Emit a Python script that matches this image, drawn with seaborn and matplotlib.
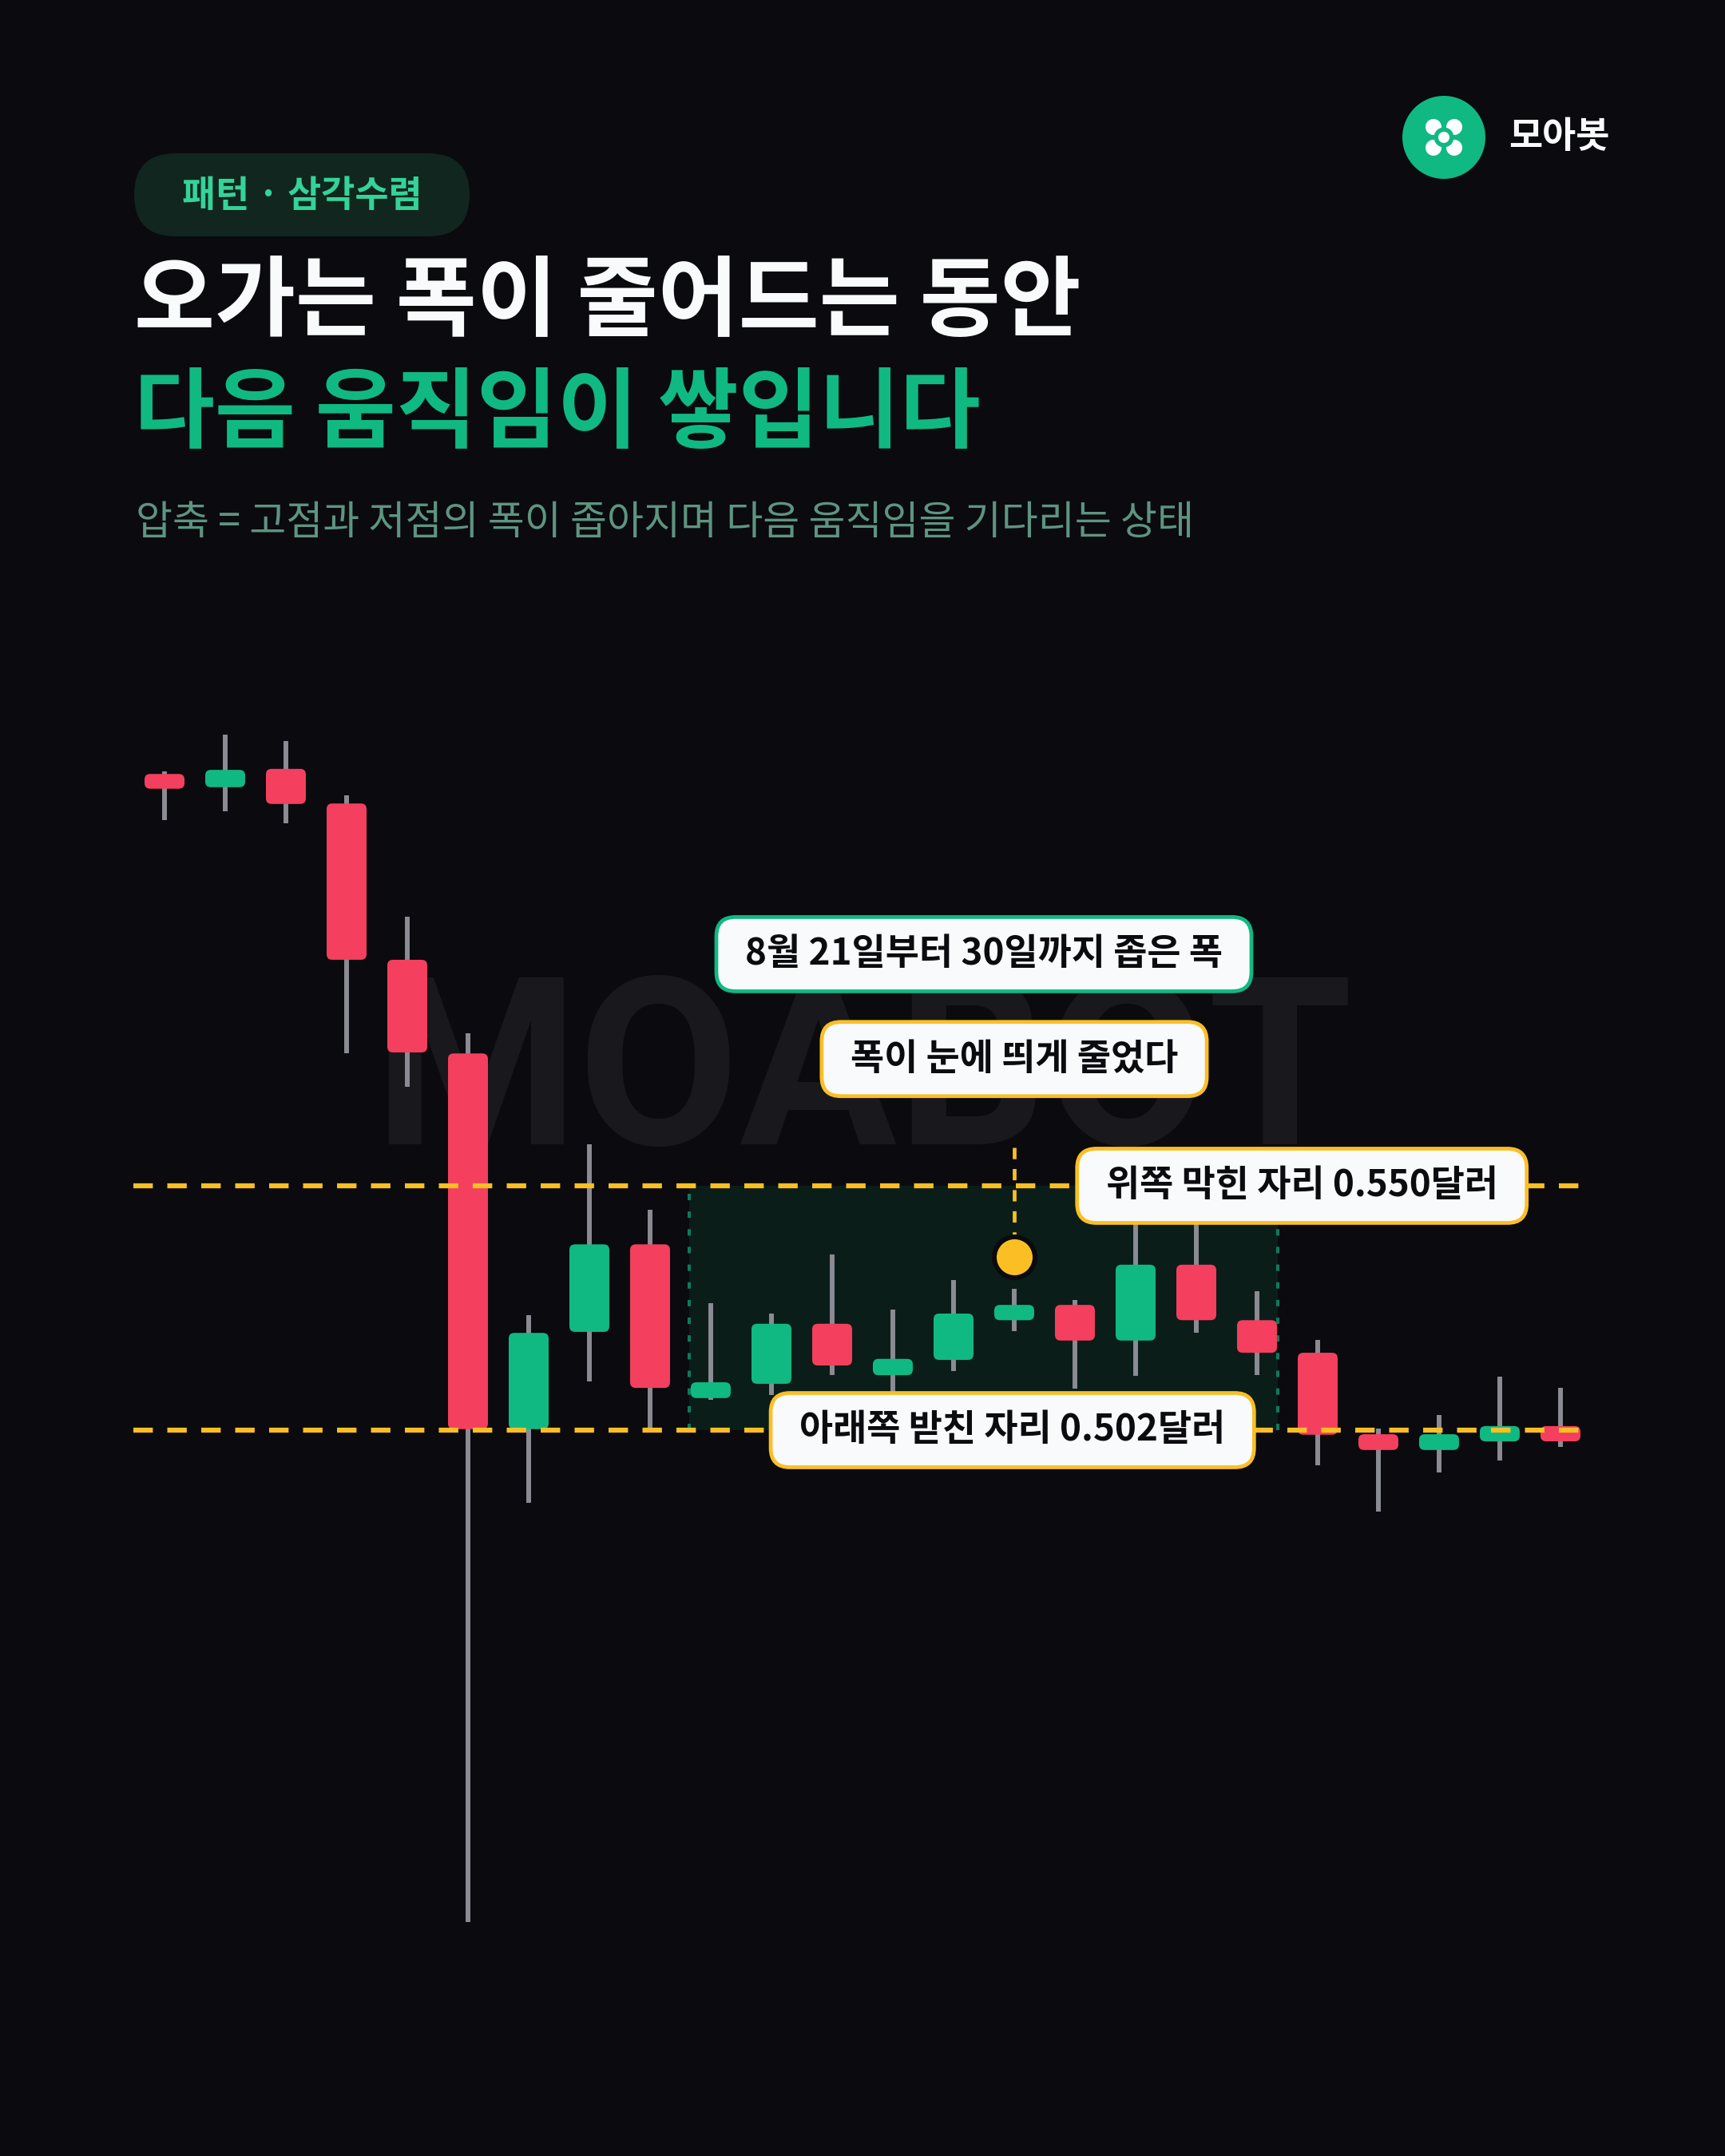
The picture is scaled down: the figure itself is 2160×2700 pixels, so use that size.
import numpy as np
import pandas as pd
import seaborn as sns
import matplotlib.pyplot as plt
from matplotlib.patches import FancyBboxPatch, Circle, Rectangle
from matplotlib.transforms import IdentityTransform

# daily candles (USD)
opens = [0.6309, 0.6283, 0.6319, 0.6251, 0.5944, 0.5760, 0.5022, 0.5213, 0.5385, 0.5083,
         0.5111, 0.5229, 0.5128, 0.5158, 0.5236, 0.5266, 0.5196, 0.5345, 0.5236, 0.5172,
         0.5012, 0.4981, 0.4998, 0.5028]
closes = [0.6280, 0.6317, 0.6250, 0.5944, 0.5762, 0.5022, 0.5211, 0.5385, 0.5103, 0.5114,
          0.5229, 0.5147, 0.5160, 0.5249, 0.5266, 0.5196, 0.5345, 0.5236, 0.5172, 0.5011,
          0.4981, 0.5012, 0.5028, 0.4998]
highs = [0.6314, 0.6386, 0.6374, 0.6267, 0.6029, 0.5800, 0.5246, 0.5582, 0.5453, 0.5269,
         0.5249, 0.5365, 0.5257, 0.5315, 0.5298, 0.5276, 0.5445, 0.5430, 0.5293, 0.5197,
         0.5023, 0.5050, 0.5125, 0.5103]
lows = [0.6218, 0.6236, 0.6212, 0.5760, 0.5695, 0.4054, 0.4877, 0.5116, 0.5017, 0.5080,
        0.5089, 0.5128, 0.5092, 0.5136, 0.5215, 0.5102, 0.5127, 0.5211, 0.5128, 0.4951,
        0.4860, 0.4937, 0.4960, 0.4987]

upper_level = 0.550
lower_level = 0.502
range_start, range_end = 9, 18   # 8/21 ~ 8/30
dot_idx, dot_price = 14, 0.5360

tag_text = "패턴 · 삼각수렴"
title_1 = "오가는 폭이 줄어드는 동안"
title_2 = "다음 움직임이 쌓입니다"
subtitle = "압축 = 고점과 저점의 폭이 좁아지며 다음 움직임을 기다리는 상태"
brand = "모아봇"
watermark = "MOABOT"
label_range = "8월 21일부터 30일까지 좁은 폭"
label_squeeze = "폭이 눈에 띄게 줄었다"
label_upper = "위쪽 막힌 자리 0.550달러"
label_lower = "아래쪽 받친 자리 0.502달러"

BG = "#0a0a0f"
RED = "#f43f5e"
GREEN = "#10b981"
WICK = "#8b8b93"
YEL = "#fbbf24"
PAPER = "#f8fafc"
INK = "#0b0b10"

sns.set_theme(style="dark", rc={"axes.facecolor": BG, "figure.facecolor": BG})
plt.rcParams["font.family"] = ["Noto Sans CJK KR", "DejaVu Sans"]

df = pd.DataFrame({"open": opens, "close": closes, "high": highs, "low": lows})
df["x"] = np.arange(len(df))
df["up"] = df["close"] >= df["open"]

W, H = 2160, 2700
fig = plt.figure(figsize=(21.6, 27), dpi=100)
fig.patch.set_facecolor(BG)

# chart area in pixels: x 167..1990, y 900..2450 (from top)
ax = fig.add_axes([167 / W, 1 - 2450 / H, 1823 / W, 1550 / H])
ax.set_xlim(-0.513, 23.474)
ax.set_ylim(0.39863, 0.64176)
ax.set_axis_off()

px_x = 1823 / (23.474 + 0.513)
px_y = 1550 / (0.64176 - 0.39863)
aspect = px_x / px_y

# watermark
ax.text(1081 / W, 1 - 1433 / H, watermark, transform=fig.transFigure, ha="center", va="baseline",
        fontsize=211, family="Roboto", fontweight="bold", color="#18181d", zorder=0.5)

# consolidation range box
ax.add_patch(Rectangle((range_start - 0.355, lower_level), range_end - range_start + 0.70,
                       upper_level - lower_level, fc="#0b1d19", ec="none", zorder=1))
ax.vlines([range_start - 0.355, range_end + 0.345], lower_level, upper_level, color="#0e7a5c",
          lw=2.9, linestyles=[(0, (2, 3.5))], zorder=1.5)

# wicks + bodies
ax.vlines(df["x"], df["low"], df["high"], color=WICK, lw=4.3, zorder=3)
bw = 50 / px_x
for _, r in df.iterrows():
    lo, hi = min(r["open"], r["close"]), max(r["open"], r["close"])
    h_px = (hi - lo) * px_y
    rad = min(7, h_px / 2) / px_x
    ax.add_patch(FancyBboxPatch((r["x"] - bw / 2, lo), bw, hi - lo,
                                boxstyle=f"round,pad=0,rounding_size={rad}", mutation_aspect=aspect,
                                fc=GREEN if r["up"] else RED, ec="none", zorder=4))

# support / resistance
for lvl in (upper_level, lower_level):
    ax.axhline(lvl, color=YEL, lw=4.5, linestyle=(0, (3.9, 2.9)), zorder=5)

# connector + marker
ax.plot([dot_idx, dot_idx], [0.5576, dot_price], color=YEL, lw=3.4, linestyle=(0, (3, 2.6)), zorder=5)
sns.scatterplot(x=[dot_idx], y=[dot_price], s=1350, color=YEL, edgecolor=BG, linewidth=4.3,
                zorder=6, ax=ax, legend=False)

renderer = fig.canvas.get_renderer()


def tag(x, y, text, edge, padx=36, h=93):
    t = ax.text(x, y, text, ha="center", va="center", fontsize=33, fontweight="bold",
                color=INK, zorder=9)
    bb = t.get_window_extent(renderer=renderer)
    w = bb.width + 2 * padx
    cx, cy = ax.transData.transform((x, y))
    ax.add_patch(FancyBboxPatch((cx - w / 2, cy - h / 2), w, h, boxstyle="round,pad=0,rounding_size=24",
                                transform=IdentityTransform(), fc=PAPER, ec=edge, lw=3.4,
                                zorder=8, clip_on=False))


tag(13.5, 0.5955, label_range, GREEN)
tag(14.0, 0.5749, label_squeeze, YEL)
tag(18.74, upper_level, label_upper, YEL)
tag(13.97, lower_level, label_lower, YEL)

# header
fig.add_artist(FancyBboxPatch((168, H - 296), 420, 104, boxstyle="round,pad=0,rounding_size=52",
                              transform=IdentityTransform(), fc="#11261e", ec="none"))
fig.text(378 / W, 1 - 246 / H, tag_text, ha="center", va="center", fontsize=33,
         fontweight="bold", color="#34d399")
fig.text(168 / W, 1 - 381 / H, title_1, ha="left", va="center", fontsize=79,
         fontweight="bold", color="#f8fafc")
fig.text(168 / W, 1 - 521 / H, title_2, ha="left", va="center", fontsize=79,
         fontweight="bold", color=GREEN)
fig.text(170 / W, 1 - 655 / H, subtitle, ha="left", va="center", fontsize=36,
         color="#5e9480")

# logo
cx, cy = 1808, H - 172
fig.add_artist(Circle((cx, cy), 52, transform=IdentityTransform(), fc=GREEN, ec="none"))
for dx, dy in [(-13, 13), (13, 13), (-13, -13), (13, -13)]:
    fig.add_artist(Circle((cx + dx, cy + dy), 10, transform=IdentityTransform(), fc="white", ec="none"))
fig.add_artist(Circle((cx, cy), 12.5, transform=IdentityTransform(), fc=GREEN, ec="none"))
fig.add_artist(Circle((cx, cy), 7, transform=IdentityTransform(), fc="white", ec="none"))
fig.text(1889 / W, 1 - 172 / H, brand, ha="left", va="center", fontsize=33,
         fontweight="bold", color="#f8fafc")

fig.savefig("out.png", dpi=100, facecolor=BG)
